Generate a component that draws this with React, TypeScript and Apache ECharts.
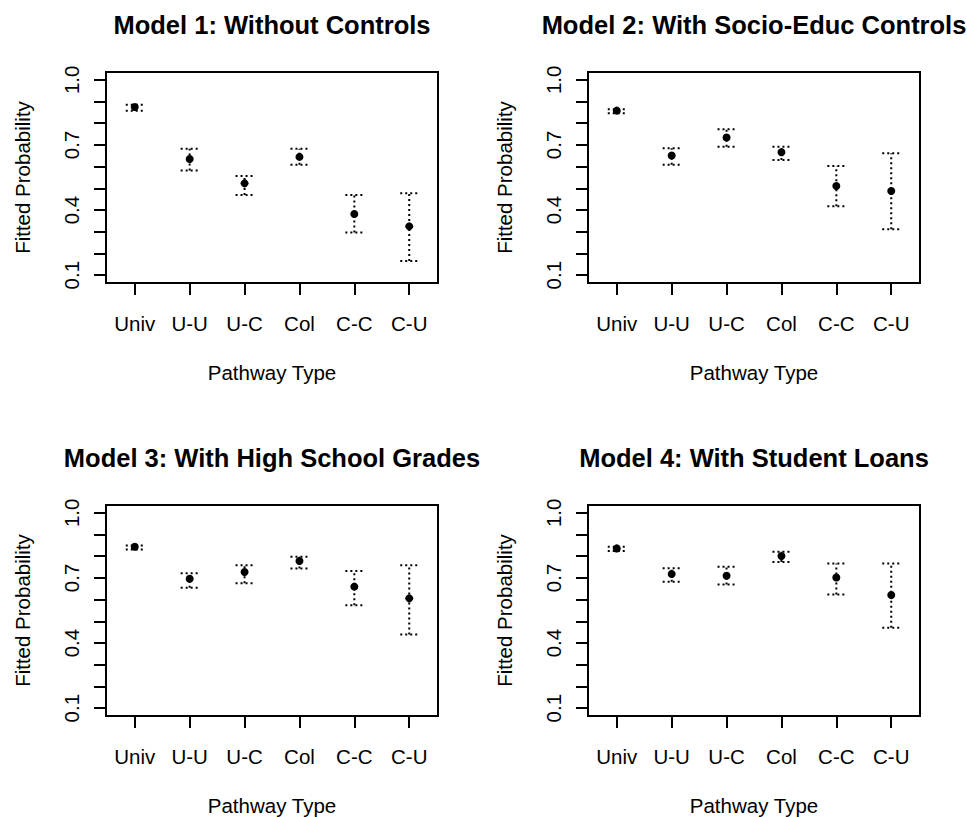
import React, { useEffect, useRef } from "react";
import * as echarts from "echarts";

const categories = ["Univ", "U-U", "U-C", "Col", "C-C", "C-U"];
const titles = [
  "Model 1: Without Controls",
  "Model 2: With Socio-Educ Controls",
  "Model 3: With High School Grades",
  "Model 4: With Student Loans",
];
const yTickValues = [0.1, 0.2, 0.3, 0.4, 0.5, 0.6, 0.7, 0.8, 0.9, 1.0];
const yLabelValues = [0.1, 0.4, 0.7, 1.0];
const xTickValues = [1, 2, 3, 4, 5, 6];

const m1Fit = [0.875, 0.635, 0.523, 0.645, 0.382, 0.325];
const m1Low = [0.857, 0.582, 0.469, 0.609, 0.297, 0.165];
const m1High = [0.885, 0.683, 0.557, 0.683, 0.469, 0.477];

const m2Fit = [0.858, 0.651, 0.734, 0.666, 0.511, 0.488];
const m2Low = [0.846, 0.609, 0.692, 0.631, 0.418, 0.312];
const m2High = [0.864, 0.685, 0.772, 0.692, 0.603, 0.662];

const m3Fit = [0.844, 0.696, 0.727, 0.778, 0.66, 0.606];
const m3Low = [0.831, 0.655, 0.676, 0.744, 0.574, 0.44];
const m3High = [0.85, 0.722, 0.758, 0.798, 0.732, 0.758];

const m4Fit = [0.836, 0.718, 0.71, 0.801, 0.702, 0.621];
const m4Low = [0.824, 0.683, 0.67, 0.773, 0.624, 0.471];
const m4High = [0.844, 0.745, 0.752, 0.821, 0.767, 0.767];

const models = [
  { fit: m1Fit, low: m1Low, high: m1High },
  { fit: m2Fit, low: m2Low, high: m2High },
  { fit: m3Fit, low: m3Low, high: m3High },
  { fit: m4Fit, low: m4Low, high: m4High },
];

const FONT = "'Liberation Sans', Arial, sans-serif";

export default function App() {
  const ref = useRef<HTMLDivElement>(null);
  useEffect(() => {
    if (!ref.current) return;
    const chart = echarts.init(ref.current, null, { renderer: "svg" });
    const gridPos = [
      { left: 106, top: 72 },
      { left: 588, top: 72 },
      { left: 106, top: 505 },
      { left: 588, top: 505 },
    ];
    const W = 332;
    const H = 211;
    const grids = gridPos.map((g) => ({
      left: g.left,
      top: g.top,
      width: W,
      height: H,
      show: true,
      borderColor: "#000",
      borderWidth: 2,
      backgroundColor: "transparent",
    }));
    const xAxes = gridPos.map((_, i) => ({
      type: "value",
      gridIndex: i,
      min: 0.476,
      max: 6.524,
      name: "Pathway Type",
      nameLocation: "middle",
      nameGap: 79,
      nameTextStyle: { fontFamily: FONT, fontSize: 20.5, color: "#000" },
      axisLine: { show: false },
      axisTick: {
        show: true,
        length: 12,
        customValues: xTickValues,
        lineStyle: { color: "#000", width: 2 },
      },
      axisLabel: {
        show: true,
        customValues: xTickValues,
        margin: 30,
        fontFamily: FONT,
        fontSize: 20.5,
        color: "#000",
        formatter: (v: number) => categories[Math.round(v) - 1] ?? "",
      },
      splitLine: { show: false },
    }));
    const yAxes = gridPos.map((_, i) => ({
      type: "value",
      gridIndex: i,
      min: 0.064,
      max: 1.036,
      name: "Fitted Probability",
      nameLocation: "middle",
      nameGap: 73,
      nameTextStyle: { fontFamily: FONT, fontSize: 20.5, color: "#000" },
      axisLine: { show: false },
      axisTick: {
        show: true,
        length: 12,
        customValues: yTickValues,
        lineStyle: { color: "#000", width: 2 },
      },
      axisLabel: {
        show: true,
        customValues: yLabelValues,
        rotate: 90,
        margin: 24,
        fontFamily: FONT,
        fontSize: 20.5,
        color: "#000",
        formatter: (v: number) => v.toFixed(1),
      },
      splitLine: { show: false },
    }));
    const title = titles.map((t, i) => ({
      text: t,
      left: gridPos[i].left + W / 2,
      top: gridPos[i].top - 60,
      textAlign: "center",
      padding: 0,
      textStyle: {
        fontFamily: FONT,
        fontSize: 25.5,
        fontWeight: "bold",
        color: "#000",
      },
    }));
    const series: any[] = [];
    models.forEach((m, i) => {
      const barData = m.fit.map((_, k) => [k + 1, m.low[k], m.high[k]]);
      series.push({
        type: "custom",
        xAxisIndex: i,
        yAxisIndex: i,
        data: barData,
        renderItem: (params: any, api: any) => {
          const x = api.value(0);
          const p1 = api.coord([x, api.value(1)]);
          const p2 = api.coord([x, api.value(2)]);
          const cap = 9;
          const style = {
            stroke: "#000",
            lineWidth: 2,
            lineDash: [2, 3],
            fill: null,
          };
          return {
            type: "group",
            children: [
              { type: "line", shape: { x1: p1[0], y1: p1[1], x2: p2[0], y2: p2[1] }, style },
              { type: "line", shape: { x1: p1[0] - cap, y1: p1[1], x2: p1[0] + cap, y2: p1[1] }, style },
              { type: "line", shape: { x1: p2[0] - cap, y1: p2[1], x2: p2[0] + cap, y2: p2[1] }, style },
            ],
          };
        },
        silent: true,
        z: 2,
      });
      series.push({
        type: "scatter",
        xAxisIndex: i,
        yAxisIndex: i,
        data: m.fit.map((v, k) => [k + 1, v]),
        symbol: "circle",
        symbolSize: 8,
        itemStyle: { color: "#000", opacity: 1 },
        silent: true,
        z: 3,
      });
    });
    chart.setOption({
      animation: false,
      backgroundColor: "#fff",
      title,
      grid: grids,
      xAxis: xAxes,
      yAxis: yAxes,
      series,
    });
    return () => chart.dispose();
  }, []);
  return (
    <div
      ref={ref}
      style={{ position: "absolute", left: 0, top: 0, width: 967, height: 817 }}
    />
  );
}
